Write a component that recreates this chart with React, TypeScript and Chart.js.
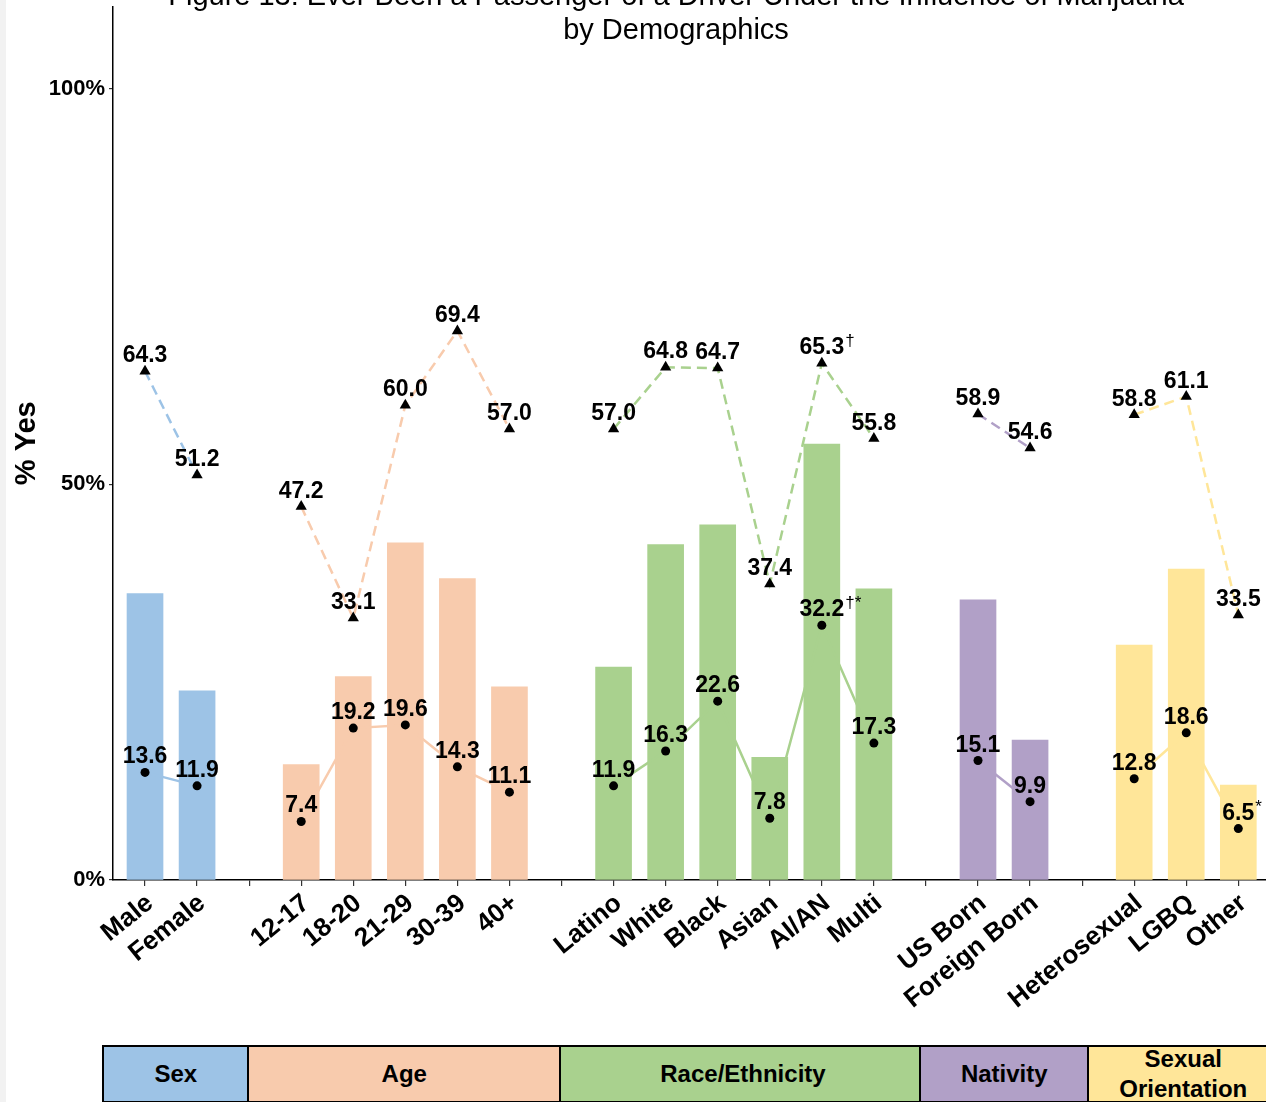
import React, { useEffect, useRef } from "react";
import { Chart, registerables } from "chart.js";

Chart.register(...registerables);

const FONT = '"Liberation Sans", Arial, Helvetica, sans-serif';

const titleLines = [
  "Figure 13: Ever Been a Passenger of a Driver Under the Influence of Marijuana",
  "by Demographics",
];
const yAxisTitle = "% Yes";
const groupNames = ["Sex", "Age", "Race/Ethnicity", "Nativity", "Sexual Orientation"];
const groupColors = ["#9DC3E6", "#F8CBAD", "#A9D18E", "#B1A0C7", "#FFE699"];
const categories = [
  "Male", "Female",
  "12-17", "18-20", "21-29", "30-39", "40+",
  "Latino", "White", "Black", "Asian", "AI/AN", "Multi",
  "US Born", "Foreign Born",
  "Heterosexual", "LGBQ", "Other",
];
const categoryGroup = [0, 0, 1, 1, 1, 1, 1, 2, 2, 2, 2, 2, 2, 3, 3, 4, 4, 4];
const barValues = [36.2, 23.9, 14.6, 25.7, 42.6, 38.1, 24.4, 26.9, 42.4, 44.9, 15.5, 55.1, 36.8, 35.4, 17.7, 29.7, 39.3, 12.0];
const circleValues = [13.6, 11.9, 7.4, 19.2, 19.6, 14.3, 11.1, 11.9, 16.3, 22.6, 7.8, 32.2, 17.3, 15.1, 9.9, 12.8, 18.6, 6.5];
const triangleValues = [64.3, 51.2, 47.2, 33.1, 60.0, 69.4, 57.0, 57.0, 64.8, 64.7, 37.4, 65.3, 55.8, 58.9, 54.6, 58.8, 61.1, 33.5];
const circleNotes = ["", "", "", "", "", "", "", "", "", "", "", "†*", "", "", "", "", "", "*"];
const triangleNotes = ["", "", "", "", "", "", "", "", "", "", "", "†", "", "", "", "", "", ""];
const yTickValues = [0, 50, 100];

// slot position: one empty slot between groups
const positions = categories.map((_, i) => i + categoryGroup[i]);
const tickLabels: string[] = [];
positions.forEach((p, i) => { tickLabels[p] = categories[i]; });

const X_MIN = -0.615;
const X_MAX = 22.06;
const Y_MAX = 110.4;

const tableEdges = [102, 247, 559, 919, 1087, 1277];

const pointLabelPlugin = {
  id: "pointLabels",
  afterDatasetsDraw(chart: any) {
    const ctx = chart.ctx;
    ctx.save();
    chart.data.datasets.forEach((ds: any, di: number) => {
      if (!ds.labelValues) return;
      const meta = chart.getDatasetMeta(di);
      meta.data.forEach((el: any, j: number) => {
        const text = ds.labelValues[j].toFixed(1);
        ctx.font = `bold 23px ${FONT}`;
        ctx.fillStyle = "#000";
        ctx.textAlign = "center";
        ctx.textBaseline = "alphabetic";
        const y = el.y - 9;
        ctx.fillText(text, el.x, y);
        const note = ds.notes[j];
        if (note) {
          const w = ctx.measureText(text).width;
          ctx.font = `17px ${FONT}`;
          ctx.textAlign = "left";
          ctx.fillText(note, el.x + w / 2 + 1, y - 8);
        }
      });
    });
    ctx.restore();
  },
};

export default function App() {
  const ref = useRef<HTMLCanvasElement>(null);

  useEffect(() => {
    if (!ref.current) return;
    const datasets: any[] = [];
    groupNames.forEach((_, gi) => {
      const idx = categories.map((_, i) => i).filter((i) => categoryGroup[i] === gi);
      datasets.push({
        type: "line",
        data: idx.map((i) => ({ x: positions[i], y: circleValues[i] })),
        labelValues: idx.map((i) => circleValues[i]),
        notes: idx.map((i) => circleNotes[i]),
        borderColor: groupColors[gi],
        borderWidth: 2.5,
        pointStyle: "circle",
        pointRadius: 4.5,
        pointBackgroundColor: "#000",
        pointBorderColor: "#000",
        pointBorderWidth: 0,
        order: 0,
      });
      datasets.push({
        type: "line",
        data: idx.map((i) => ({ x: positions[i], y: triangleValues[i] })),
        labelValues: idx.map((i) => triangleValues[i]),
        notes: idx.map((i) => triangleNotes[i]),
        borderColor: groupColors[gi],
        borderWidth: 2.5,
        borderDash: [10, 6],
        pointStyle: "triangle",
        pointRadius: 6.5,
        pointBackgroundColor: "#000",
        pointBorderColor: "#000",
        pointBorderWidth: 0,
        order: 0,
      });
    });
    datasets.push({
      type: "bar",
      data: categories.map((_, i) => ({ x: positions[i], y: barValues[i] })),
      backgroundColor: categories.map((_, i) => groupColors[categoryGroup[i]]),
      barThickness: 36,
      order: 2,
    });

    const chart = new Chart(ref.current, {
      type: "bar",
      data: { datasets },
      options: {
        responsive: false,
        animation: false,
        devicePixelRatio: 1,
        layout: { padding: { top: 6, right: 0, bottom: 0, left: 0 } },
        plugins: { legend: { display: false }, tooltip: { enabled: false } },
        events: [],
        scales: {
          x: {
            type: "linear",
            min: X_MIN,
            max: X_MAX,
            offset: false,
            border: { color: "#000", width: 1.5 },
            grid: { offset: false, drawOnChartArea: false, drawTicks: true, tickLength: 6, color: "#333", lineWidth: 1.2 },
            ticks: {
              autoSkip: false,
              stepSize: 1,
              includeBounds: false,
              minRotation: 39,
              maxRotation: 39,
              labelOffset: 5,
              padding: 2,
              color: "#000",
              font: { size: 26, weight: "bold", family: FONT },
              callback: (v: any) => tickLabels[v] ?? "",
            },
            afterFit: (s: any) => { s.height = 160; s.paddingLeft = 0; s.paddingRight = 0; },
          } as any,
          y: {
            min: 0,
            max: Y_MAX,
            border: { color: "#000", width: 1.5 },
            grid: { drawOnChartArea: false, drawTicks: true, tickLength: 4, color: "#333", lineWidth: 1.2 },
            ticks: {
              stepSize: 50,
              includeBounds: false,
              padding: 4,
              color: "#000",
              font: { size: 22, weight: "bold", family: FONT },
              callback: (v: any) => (yTickValues.includes(v) ? v + "%" : ""),
            },
            title: {
              display: true,
              text: yAxisTitle,
              color: "#000",
              font: { size: 29, weight: "bold", family: FONT },
              padding: { top: 10, bottom: 0 },
            },
            afterFit: (s: any) => { s.width = 113; s.paddingTop = 0; s.paddingBottom = 0; },
          } as any,
        },
      },
      plugins: [pointLabelPlugin],
    } as any);
    return () => chart.destroy();
  }, []);

  return (
    <div style={{ position: "fixed", left: 0, top: 0, width: 1266, height: 1102, overflow: "hidden", background: "#fff" }}>
      <div style={{ position: "absolute", left: 0, top: 0, width: 6, height: 1102, background: "#f2f2f2" }} />
      <canvas ref={ref} width={1300} height={1040} style={{ position: "absolute", left: 0, top: 0 }} />
      <div
        style={{
          position: "absolute",
          left: 0,
          top: -22.5,
          width: 1352,
          textAlign: "center",
          fontFamily: FONT,
          fontSize: 29,
          lineHeight: "34px",
          color: "#000",
          whiteSpace: "nowrap",
        }}
      >
        {titleLines.map((t) => (
          <div key={t}>{t}</div>
        ))}
      </div>
      {groupNames.map((g, gi) => (
        <div
          key={g}
          style={{
            position: "absolute",
            left: tableEdges[gi],
            top: 1045,
            width: tableEdges[gi + 1] - tableEdges[gi] + 2.5,
            height: 58,
            boxSizing: "border-box",
            border: "2.5px solid #000",
            background: groupColors[gi],
            display: "flex",
            alignItems: "center",
            justifyContent: "center",
            textAlign: "center",
            fontFamily: FONT,
            fontWeight: "bold",
            fontSize: 24,
            lineHeight: "30px",
            color: "#000",
          }}
        >
          <span style={{ maxWidth: 160 }}>{g}</span>
        </div>
      ))}
    </div>
  );
}
